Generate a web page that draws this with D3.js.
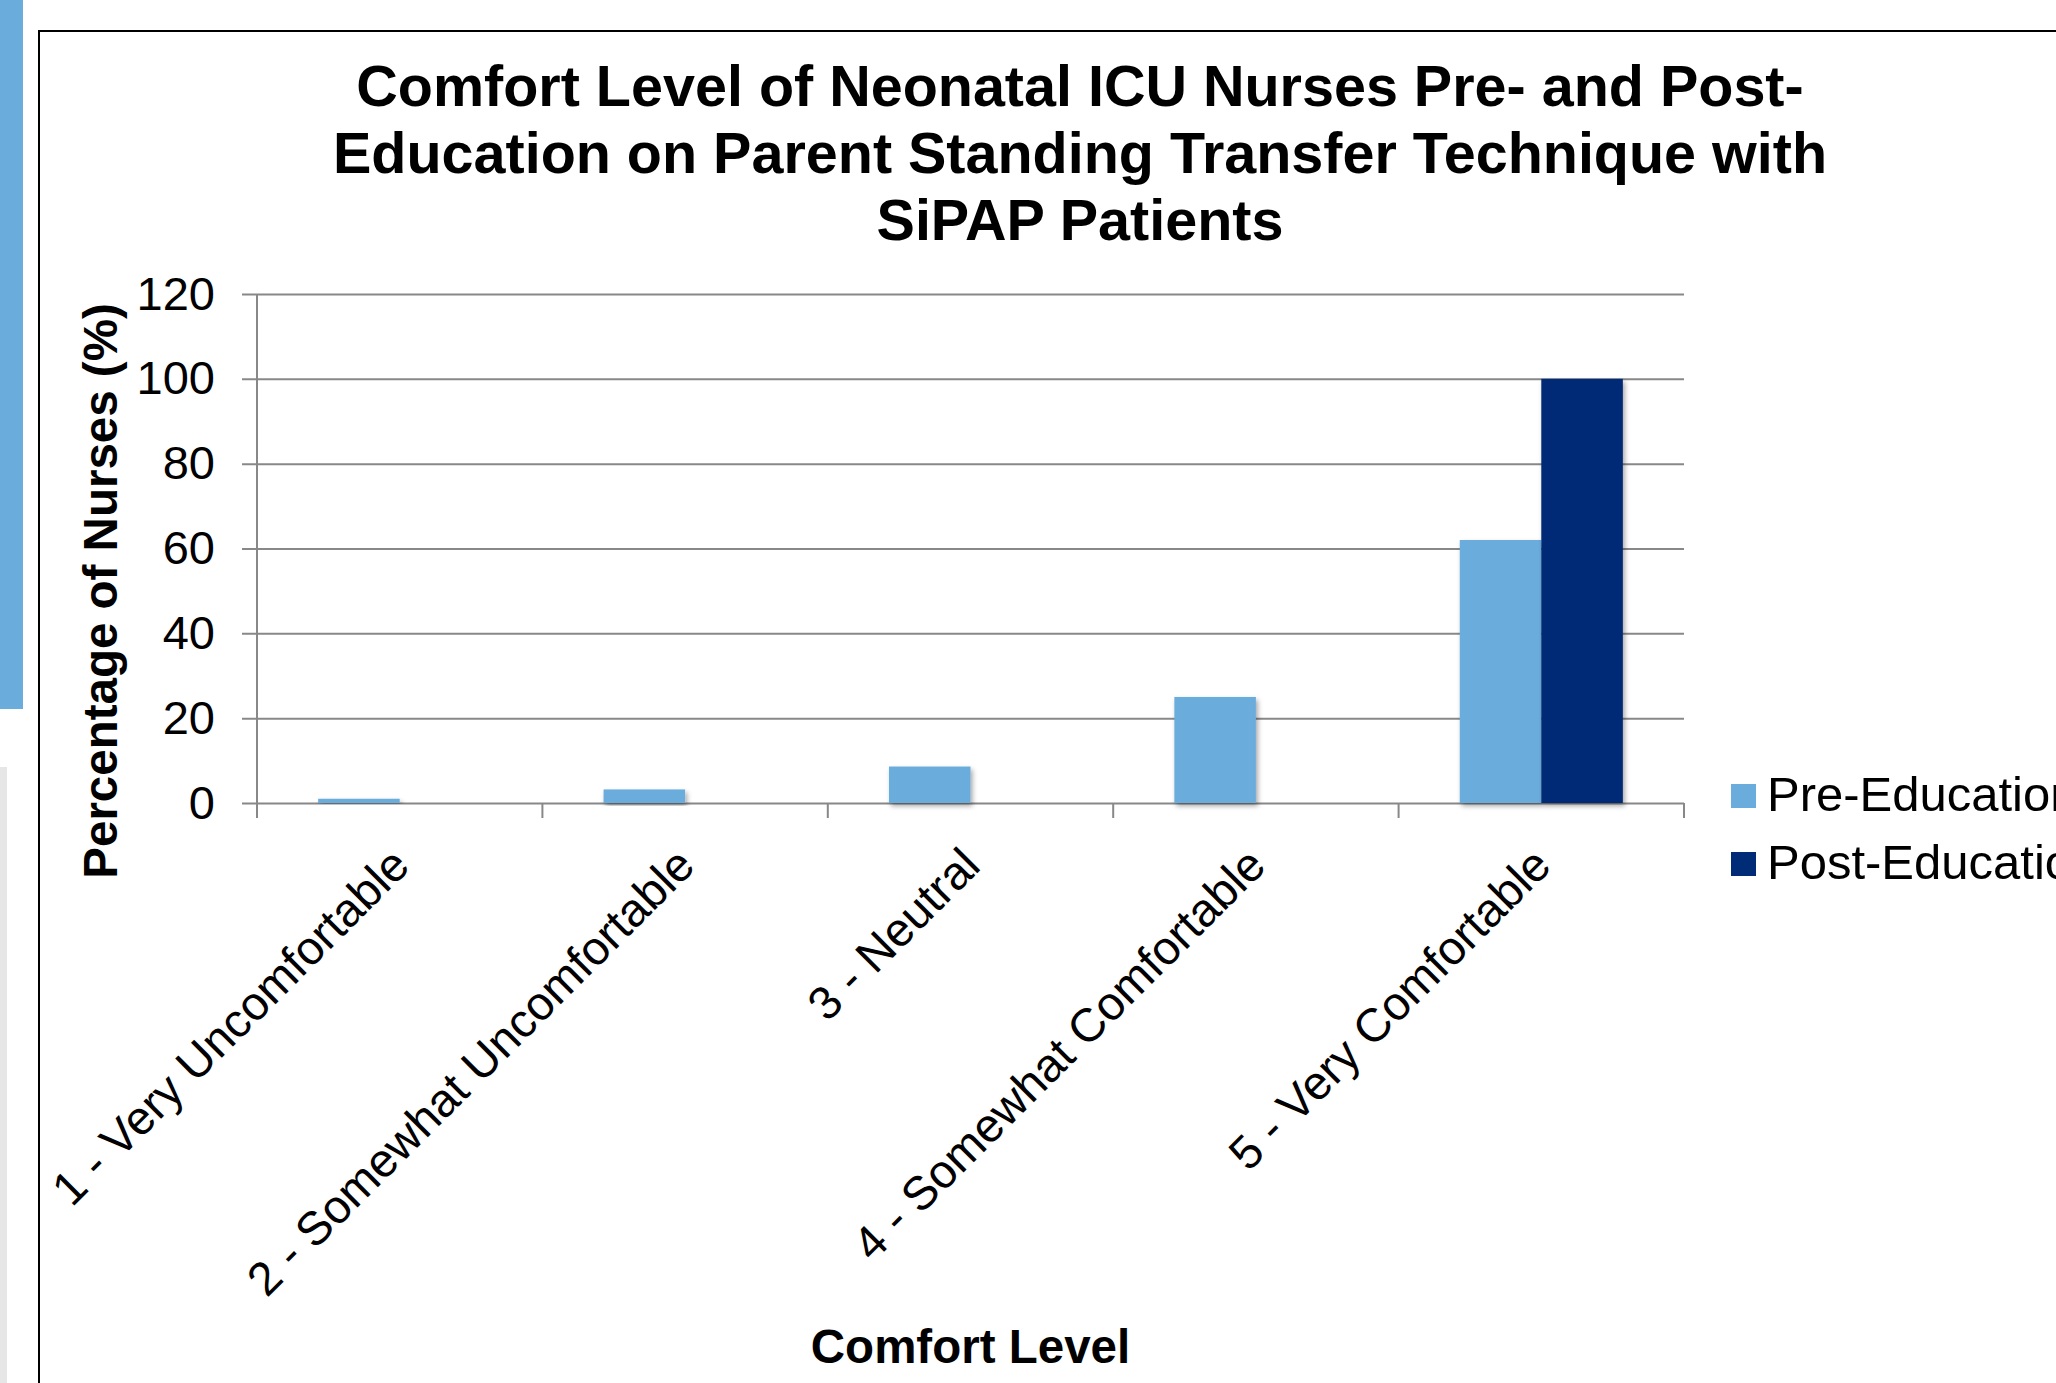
<!DOCTYPE html>
<meta charset="utf-8">
<style>

body {
  margin: 0;
  background: #fff;
  font-family: "Liberation Sans", Arial, Helvetica, sans-serif;
}

svg { display: block; }

.grid line { stroke: #888; stroke-width: 2px; }
.grid text { font-size: 47px; fill: #000; }
.xlab text { font-size: 47px; fill: #000; }
.title { font-size: 57.5px; font-weight: bold; }
.axis-title { font-size: 47.5px; font-weight: bold; }
.legend text { font-size: 49px; }

</style>
<body>
<script src="https://cdn.jsdelivr.net/npm/d3@7"></script>
<script>

var categories = ["1 - Very Uncomfortable", "2 - Somewhat Uncomfortable", "3 - Neutral",
                  "4 - Somewhat Comfortable", "5 - Very Comfortable"];
var series = ["Pre-Education", "Post-Education"];
var preValues = [1, 3.2, 8.6, 25, 62];
var postValues = [0, 0, 0, 0, 100];
var yTicks = [0, 20, 40, 60, 80, 100, 120];
var titleLines = ["Comfort Level of Neonatal ICU Nurses Pre- and Post-",
                  "Education on Parent Standing Transfer Technique with",
                  "SiPAP Patients"];

var colors = {"Pre-Education": "#6aacdc", "Post-Education": "#002b76"};

var W = 2056, H = 1383;
var plot = {left: 257, right: 1684, top: 294, bottom: 803};

var svg = d3.select("body").append("svg")
    .attr("width", W)
    .attr("height", H);

var defs = svg.append("defs");
var f = defs.append("filter").attr("id", "shadow")
    .attr("x", "-20%").attr("y", "-20%").attr("width", "140%").attr("height", "140%");
f.append("feDropShadow")
    .attr("dx", 2).attr("dy", 3).attr("stdDeviation", 2.5)
    .attr("flood-color", "#000").attr("flood-opacity", 0.35);

// slide decoration on the left
svg.append("rect").attr("x", 0).attr("y", 0).attr("width", 23).attr("height", 709).attr("fill", "#6aacdc");
svg.append("rect").attr("x", 0).attr("y", 767).attr("width", 7).attr("height", H - 767).attr("fill", "#e6e6e6");

// chart frame (runs off the right and bottom edge)
svg.append("rect")
    .attr("x", 39).attr("y", 31)
    .attr("width", W + 100).attr("height", H + 100)
    .attr("fill", "#fff").attr("stroke", "#000").attr("stroke-width", 2);

var data = categories.map(function(c, i) {
  return {cat: c, values: [{key: series[0], v: preValues[i]}, {key: series[1], v: postValues[i]}]};
});

var x0 = d3.scaleBand().domain(categories).range([plot.left, plot.right]);
var bw = x0.bandwidth();
var barW = bw / 3.5; // gap width 150%
var x1 = d3.scaleBand().domain(series).range([0.75 * barW, 2.75 * barW]);

var y = d3.scaleLinear().domain([0, 120]).range([plot.bottom, plot.top]);

// gridlines + y tick labels
var gy = svg.append("g")
    .attr("class", "grid")
    .attr("transform", "translate(" + (plot.left - 15) + ",0)")
    .call(d3.axisLeft(y).tickValues(yTicks).tickSize(-(plot.right - plot.left + 15)).tickPadding(27));
gy.select(".domain").remove();
gy.selectAll("text").attr("font-family", null).attr("font-size", null);
gy.selectAll("line").attr("stroke", null);

// y axis line (runs down past baseline like the category ticks)
svg.append("line")
    .attr("x1", plot.left).attr("x2", plot.left)
    .attr("y1", plot.top).attr("y2", plot.bottom + 15)
    .attr("stroke", "#888").attr("stroke-width", 2);

// category boundary ticks
var bounds = categories.map(function(c) { return x0(c); }).concat([plot.right]);
svg.append("g").selectAll("line")
    .data(bounds.slice(1))
  .enter().append("line")
    .attr("x1", function(d) { return d; }).attr("x2", function(d) { return d; })
    .attr("y1", plot.bottom).attr("y2", plot.bottom + 15)
    .attr("stroke", "#888").attr("stroke-width", 2);

// bars
var groups = svg.append("g").selectAll("g")
    .data(data)
  .enter().append("g")
    .attr("transform", function(d) { return "translate(" + x0(d.cat) + ",0)"; });

groups.selectAll("rect")
    .data(function(d) { return d.values.filter(function(e) { return e.v > 0; }); })
  .enter().append("rect")
    .attr("x", function(d) { return x1(d.key); })
    .attr("width", x1.bandwidth())
    .attr("y", function(d) { return y(d.v); })
    .attr("height", function(d) { return y(0) - y(d.v); })
    .attr("fill", function(d) { return colors[d.key]; })
    .attr("filter", "url(#shadow)");

// category labels, rotated
var gx = svg.append("g")
    .attr("class", "xlab")
    .attr("transform", "translate(0," + plot.bottom + ")")
    .call(d3.axisBottom(x0).tickSize(0).tickPadding(0));
gx.select(".domain").remove();
gx.selectAll("text")
    .attr("font-family", null).attr("font-size", null)
    .attr("y", null).attr("dy", null)
    .style("text-anchor", "end")
    .attr("transform", "translate(12,65) rotate(-45)");

// title
svg.append("g").selectAll("text")
    .data(titleLines)
  .enter().append("text")
    .attr("class", "title")
    .attr("x", 1080)
    .attr("y", function(d, i) { return 106 + i * 67; })
    .attr("text-anchor", "middle")
    .text(function(d) { return d; });

// axis titles
svg.append("text")
    .attr("class", "axis-title")
    .attr("transform", "translate(117,591) rotate(-90)")
    .attr("text-anchor", "middle")
    .text("Percentage of Nurses (%)");

svg.append("text")
    .attr("class", "axis-title")
    .attr("x", (plot.left + plot.right) / 2)
    .attr("y", 1363)
    .attr("text-anchor", "middle")
    .text("Comfort Level");

// legend
var legend = svg.append("g").attr("class", "legend")
    .selectAll("g")
    .data(series)
  .enter().append("g")
    .attr("transform", function(d, i) { return "translate(1731," + (784 + i * 68) + ")"; });

legend.append("rect")
    .attr("width", 25).attr("height", 24)
    .attr("fill", function(d) { return colors[d]; });

legend.append("text")
    .attr("x", 36).attr("y", 27)
    .text(function(d) { return d; });

</script>
